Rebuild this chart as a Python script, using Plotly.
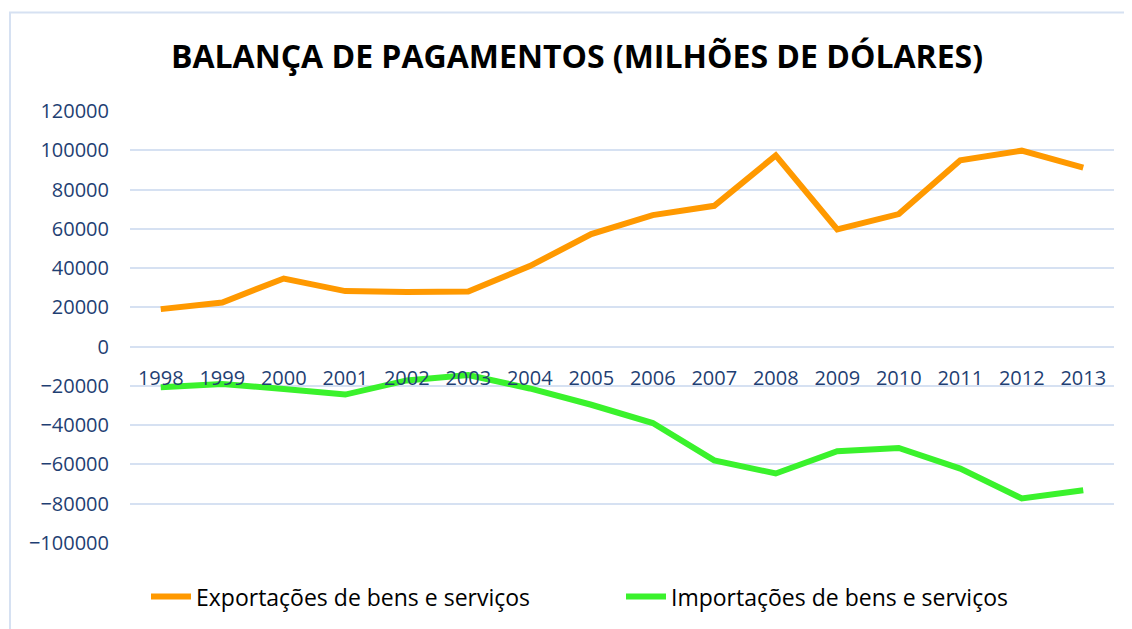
import plotly.graph_objects as go

years = ["1998", "1999", "2000", "2001", "2002", "2003", "2004", "2005",
         "2006", "2007", "2008", "2009", "2010", "2011", "2012", "2013"]
exportacoes = [19100, 22500, 34700, 28300, 27800, 28100, 41000, 57300,
               67000, 71700, 97400, 59700, 67500, 94900, 99800, 91200]
importacoes = [-20700, -19000, -21600, -24400, -17200, -14500, -21300, -29600,
               -38900, -57900, -64600, -53300, -51600, -62100, -77300, -73100]
y_ticks = [-100000, -80000, -60000, -40000, -20000, 0, 20000, 40000, 60000,
           80000, 100000, 120000]

# the page body adds an 8px offset; positions below are given in
# screenshot pixels and converted to figure pixels
OFF = 8
W, H = 1132 - OFF, 629 - OFF
PLOT_L, PLOT_R, PLOT_T, PLOT_B = 130, 1114, 110.7, 543.3  # screenshot px
L = PLOT_L - OFF
T = PLOT_T - OFF
R = W - (PLOT_R - OFF)
B = H - (PLOT_B - OFF)
pw, ph = PLOT_R - PLOT_L, PLOT_B - PLOT_T

def px(x):
    return (x - PLOT_L) / pw

def py(y):
    return (PLOT_B - y) / ph

FONT = "Open Sans"
TICK_COLOR = "#1f3f73"
GRID = "#d6e1f2"

fig = go.Figure()
fig.add_trace(go.Scatter(x=years, y=exportacoes, mode="lines",
                         name="Exportações de bens e serviços",
                         line=dict(color="#ff9900", width=6)))
fig.add_trace(go.Scatter(x=years, y=importacoes, mode="lines",
                         name="Importações de bens e serviços",
                         line=dict(color="#3af22c", width=6)))

zero_pos = (0 - y_ticks[0]) / (y_ticks[-1] - y_ticks[0])

fig.update_layout(
    width=W, height=H,
    margin=dict(l=L, r=R, t=T, b=B, autoexpand=False),
    paper_bgcolor="white", plot_bgcolor="white",
    font=dict(family=FONT, color=TICK_COLOR),
    title=dict(text="<b>BALANÇA DE PAGAMENTOS (MILHÕES DE DÓLARES)</b>",
               font=dict(family=FONT, size=32, color="black"),
               xref="container", x=(577 - OFF) / W, xanchor="center",
               yref="container", y=1 - (57 - OFF) / H, yanchor="middle"),
    xaxis=dict(type="category", categoryorder="array", categoryarray=years,
               range=[-0.5, len(years) - 0.5],
               anchor="free", position=zero_pos, showgrid=False,
               showline=False, zeroline=False, ticks="",
               automargin=False,
               ticklabelstandoff=17,
               tickfont=dict(size=20, color=TICK_COLOR)),
    yaxis=dict(range=[y_ticks[0], y_ticks[-1]], tickvals=y_ticks,
               tickformat="d", showgrid=True, gridcolor=GRID, gridwidth=2,
               zeroline=False, showline=False, ticks="",
               automargin=False,
               ticklabelstandoff=20,
               tickfont=dict(size=20, color=TICK_COLOR)),
    legend=dict(orientation="h", x=px(146), xanchor="left",
                y=py(597), yanchor="middle",
                font=dict(size=23, color="black"),
                itemwidth=40, entrywidth=420),
    showlegend=True,
)

fig.add_shape(type="rect", xref="paper", yref="paper",
              x0=px(10), x1=px(1145), y0=py(645), y1=py(12),
              line=dict(color="#d6e1f2", width=2), layer="below")

fig.write_html("out.html")
